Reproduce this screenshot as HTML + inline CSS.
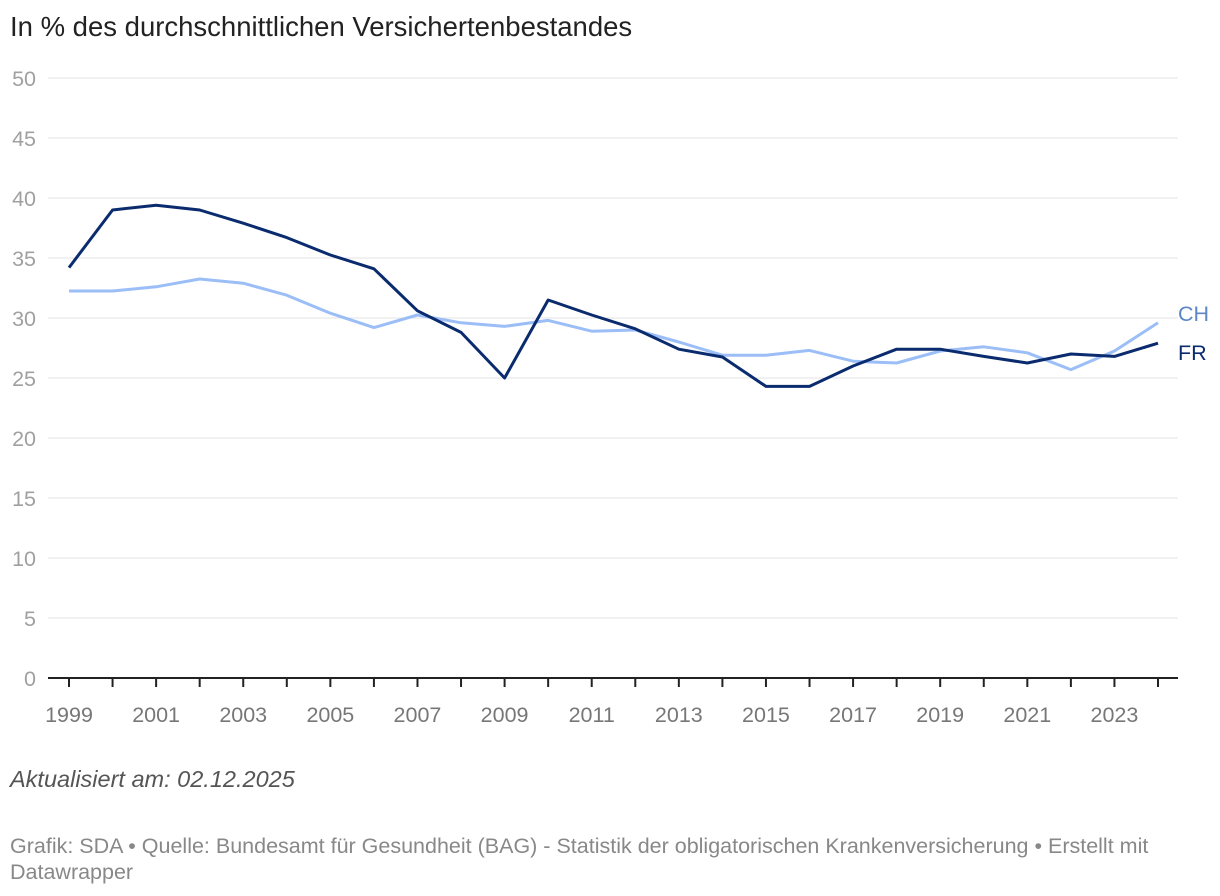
<!DOCTYPE html>
<html><head><meta charset="utf-8"><style>
body{margin:0;background:#fff;width:1220px;height:896px;overflow:hidden;font-family:"Liberation Sans",sans-serif}
.t{position:absolute;left:10px;top:11px;font-size:27.5px;color:#222}
.u{position:absolute;left:10px;top:766px;font-size:23.5px;font-style:italic;color:#555}
.s{position:absolute;left:10px;top:833px;width:1165px;font-size:21.5px;line-height:26px;color:#888}
</style></head><body>
<div class="t">In % des durchschnittlichen Versichertenbestandes</div>
<svg id="c" width="1220" height="896" style="position:absolute;left:0;top:0"></svg>
<div class="u">Aktualisiert am: 02.12.2025</div>
<div class="s">Grafik: SDA • Quelle: Bundesamt für Gesundheit (BAG) - Statistik der obligatorischen Krankenversicherung • Erstellt mit Datawrapper</div>
<script>
const years=[1999,2000,2001,2002,2003,2004,2005,2006,2007,2008,2009,2010,2011,2012,2013,2014,2015,2016,2017,2018,2019,2020,2021,2022,2023,2024];
const fr=[34.2,39.0,39.4,39.0,37.9,36.7,35.25,34.1,30.6,28.8,25.0,31.5,30.25,29.1,27.4,26.75,24.3,24.3,26.0,27.4,27.4,26.8,26.25,27.0,26.8,27.9];
const ch=[32.25,32.25,32.6,33.25,32.9,31.9,30.4,29.2,30.25,29.6,29.3,29.8,28.9,29.0,28.0,26.9,26.9,27.3,26.4,26.25,27.25,27.6,27.1,25.7,27.25,29.6];
const yTicks=[0,5,10,15,20,25,30,35,40,45,50];
const NS="http://www.w3.org/2000/svg",svg=document.getElementById('c');
const x=v=>69+(v-1999)*(1158-69)/25, y=v=>678-v*12;
function mk(t,a,txt){const e=document.createElementNS(NS,t);for(const k in a)e.setAttribute(k,a[k]);if(txt!=null)e.textContent=txt;svg.appendChild(e);return e;}
yTicks.forEach(v=>{
 if(v>0){const g=mk('line',{x1:48,x2:1178,y1:y(v),y2:y(v),stroke:'#e3e3e3','stroke-width':1});
 
 }
 const l=mk('text',{x:36,y:y(v)+8,'text-anchor':'end','font-size':21.5,fill:'#a0a0a0','font-family':'Liberation Sans, sans-serif'},v);
 
 
});
const ax=mk('line',{x1:48,x2:1178,y1:678,y2:678,stroke:'#222','stroke-width':2});


years.forEach((yr,i)=>{
 const tk=mk('line',{x1:x(yr),x2:x(yr),y1:678,y2:687,stroke:'#222','stroke-width':2});
 
 
 if(i%2==0){const l=mk('text',{x:x(yr),y:722,'text-anchor':'middle','font-size':21.5,fill:'#777','font-family':'Liberation Sans, sans-serif'},yr);
 
 }
});
function line(vals,col,name){
 const p=mk('polyline',{points:vals.map((v,i)=>x(years[i])+','+y(v)).join(' '),fill:'none',stroke:col,'stroke-width':3,'stroke-linejoin':'round'});
 
 
}
line(ch,'#9bbef7','line-ch');
line(fr,'#0a2b6e','line-fr');
const lc=mk('text',{x:1178,y:y(ch[25])-2,'font-size':21.5,fill:'#5d86c6','font-family':'Liberation Sans, sans-serif'},'CH');


const lf=mk('text',{x:1178,y:y(fr[25])+17,'font-size':21.5,fill:'#0a2b6e','font-family':'Liberation Sans, sans-serif'},'FR');


</script>
</body></html>
